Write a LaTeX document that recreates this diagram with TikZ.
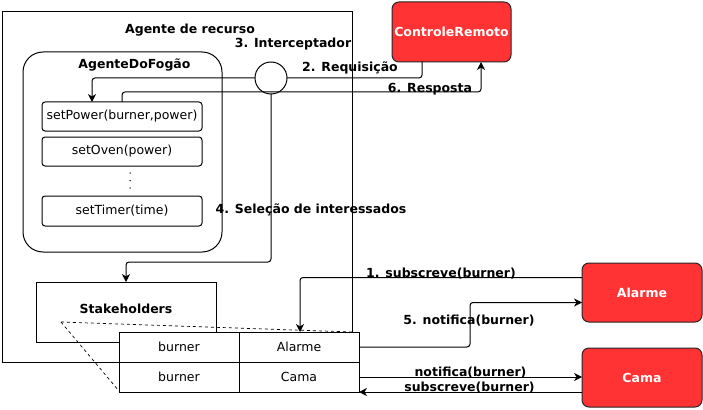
\documentclass[tikz,border=0pt]{standalone}
\usepackage{fontspec}
\setmainfont{DejaVu Sans}
\usetikzlibrary{arrows.meta,calc}
\definecolor{actorred}{RGB}{255,51,51}
\begin{document}
\begin{tikzpicture}[x=1pt,y=-1pt,line width=1pt,
  every node/.style={font=\fontsize{12.5}{15}\selectfont,inner sep=0pt,outer sep=0pt},
  lbl/.style={font=\fontsize{12.5}{15}\selectfont\bfseries},
  plainbox/.style={draw,rectangle},
  fnbox/.style={draw,rectangle,rounded corners=3pt,minimum width=160pt,minimum height=29pt},
  cell/.style={draw,rectangle,fill=white,minimum width=120pt,minimum height=30pt},
  actor/.style={draw=black!85,fill=actorred,rounded corners=7pt,text=white,font=\fontsize{12.5}{15}\selectfont\bfseries},
  conn/.style={draw,rounded corners=3pt,-{Stealth[length=8pt,width=8pt,inset=2.5pt]}},
  dashline/.style={draw,line width=0.7pt,dash pattern=on 3pt off 3pt}
]
\useasboundingbox (0,0) rectangle (703,409);
% outer resource agent box
\node[plainbox,minimum width=350pt,minimum height=350pt] (outer) at (177,187) {};
\node[lbl] (outertitle) at (190,30) {Agente de recurso};
\node[lbl] (icptitle) at (293,44) {3. Interceptador};
% stove agent
\node[draw,rounded corners=20pt,minimum width=199pt,minimum height=200pt] (fogao) at (122.5,152) {};
\node[lbl] (fogaotitle) at (134.5,65) {AgenteDoFogão};
\node[fnbox] (setpower) at (122,116.5) {setPower(burner,power)};
\node[fnbox] (setoven) at (122,151.5) {setOven(power)};
\node[fnbox,minimum height=30pt] (settimer) at (122,211) {setTimer(time)};
\fill (130,173) circle (0.75pt) (130,180.5) circle (0.75pt) (130,188) circle (0.75pt);
% interceptor
\node[draw,circle,minimum size=32pt,fill=white] (icp) at (271,78) {};
% remote control
\node[actor,minimum width=119pt,minimum height=60pt] (ctrl) at (451.5,32) {ControleRemoto};
% stakeholders
\node[plainbox,minimum width=180pt,minimum height=60pt] (stake) at (126,312) {};
\node[lbl] (staketitle) at (126,309) {Stakeholders};
\draw[dashline] ($(stake.south west)+(25,-20)$) -- ($(outer.east)+(0,145)$);
\draw[dashline] ($(stake.south west)+(25,-20)$) -- (119,391);
% table
\node[cell] (c11) at (179,347) {burner};
\node[cell] (c12) at (299,347) {Alarme};
\node[cell] (c21) at (179,377) {burner};
\node[cell] (c22) at (299,377) {Cama};
% actors
\node[actor,minimum width=120pt,minimum height=59pt] (alarme) at (642,292.5) {Alarme};
\node[actor,minimum width=120pt,minimum height=59pt] (cama) at (642,377.5) {Cama};
% connectors
\draw[conn] (icp.west) -| ($(setpower.north west)+(50,0)$);
\draw[rounded corners=3pt] ($(ctrl.south west)+(30,0)$) |- (icp.east);
\draw[conn] ($(setpower.north west)+(80,0)$) -- ++(0,-10) -| ($(ctrl.south west)+(89,0)$);
\draw[conn] (icp.south) -- ++(0,168) -| (stake.north);
\draw[conn] ($(alarme.west)+(0,-15)$) -| ($(c12.north)+(1,0)$);
\draw[conn] (c12.east) -- ++(111,0) |- ($(alarme.west)+(0,10)$);
\draw[conn] (c22.east) -- (c22.east -| cama.west);
\draw[conn] (c22.south east -| cama.west) -- (c22.south east);
% labels
\node[lbl] (l2) at (350,68) {2. Requisição};
\node[lbl] (l6) at (430,89) {6. Resposta};
\node[lbl] (l4) at (311,210) {4. Seleção de interessados};
\node[lbl] (l1) at (441,274) {1. subscreve(burner)};
\node[lbl] (l5) at (469,321) {5. notifica(burner)};
\node[lbl] (ln) at (470.5,373) {notifica(burner)};
\node[lbl] (ls) at (469.5,388) {subscreve(burner)};
\end{tikzpicture}
\end{document}
